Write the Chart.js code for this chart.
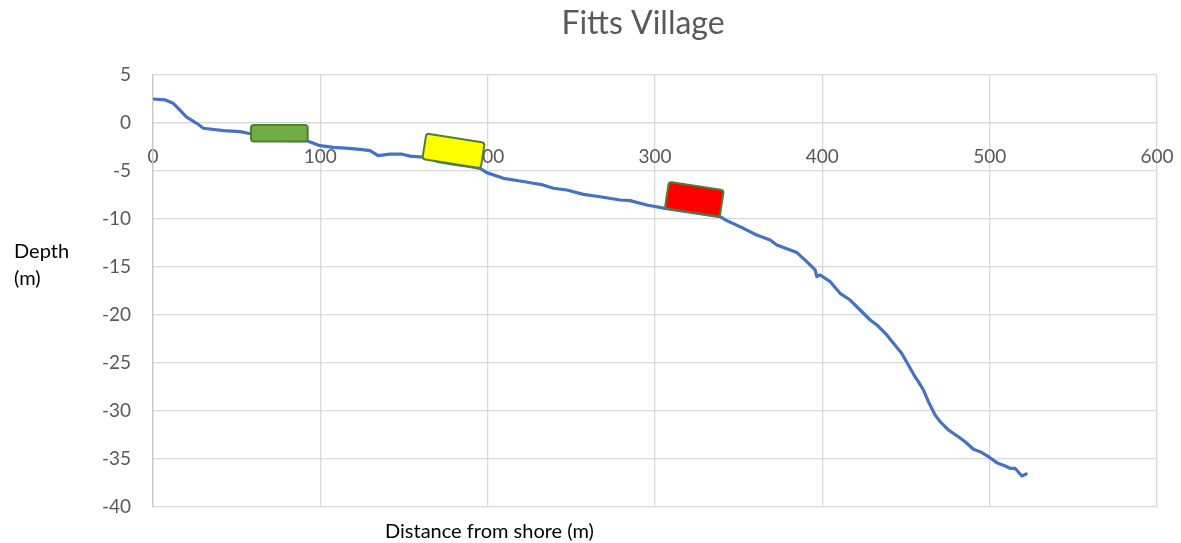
<!DOCTYPE html>
<html>
<head>
<meta charset="utf-8">
<script src="https://cdn.jsdelivr.net/npm/chart.js@4.4.1/dist/chart.umd.min.js"></script>
<style>
  html, body { margin: 0; padding: 0; background: #ffffff; }
  #wrap { width: 1181px; height: 543px; }
</style>
</head>
<body>
<div id="wrap"><canvas id="c" width="1181" height="543"></canvas></div>
<script>
// ---- data ----
const chartTitle = "Fitts Village";
const xAxisTitle = "Distance from shore (m)";
const yAxisTitleLines = ["Depth", "(m)"];

const distance = [0, 7.3, 12.1, 16.1, 20.1, 26.1, 30.1, 42, 52, 59, 70, 80.9, 91.9, 99.8, 107.8, 115, 123.7, 129.7, 134.5, 141.6, 149, 153.6, 161.6, 170, 180, 190, 195.5, 199.4, 209.4, 219.4, 227.3, 233, 239.3, 247.3, 257.2, 267.2, 279.1, 285.1, 295.1, 306, 320, 330, 338.9, 342.9, 352.8, 360.8, 368.8, 372.8, 380.8, 384.8, 390.7, 395.7, 396.7, 398.7, 404.7, 410.6, 416.6, 422.6, 428.6, 432.6, 438.5, 442.5, 447.4, 451.4, 455.4, 457.4, 460.4, 463.4, 467.4, 470.4, 475.4, 481.3, 485.3, 490.3, 494.3, 499.3, 504.3, 509.3, 512.2, 515.2, 519.2, 521.8];
const depth = [2.5, 2.4, 2.05, 1.35, 0.6, -0.03, -0.55, -0.8, -0.9, -1.15, -1.5, -1.84, -1.84, -2.36, -2.53, -2.62, -2.74, -2.88, -3.4, -3.25, -3.25, -3.45, -3.55, -3.99, -4.28, -4.56, -4.72, -5.17, -5.76, -6.04, -6.28, -6.45, -6.8, -6.98, -7.43, -7.68, -8.02, -8.09, -8.54, -8.9, -9.27, -9.53, -9.76, -10.17, -10.97, -11.67, -12.19, -12.71, -13.23, -13.5, -14.44, -15.31, -16.0, -15.83, -16.53, -17.74, -18.44, -19.48, -20.52, -21.04, -22.08, -22.95, -23.99, -25.21, -26.43, -26.94, -27.81, -29.03, -30.42, -31.11, -31.98, -32.68, -33.2, -33.99, -34.24, -34.76, -35.38, -35.73, -35.97, -35.97, -36.77, -36.56];

const xTicks = [0, 100, 200, 300, 400, 500, 600];
const yTicks = [5, 0, -5, -10, -15, -20, -25, -30, -35, -40];

// Zone markers (annotation shapes): centre in data units, size in data units, tilt in degrees
const markerCenterX = [75.5, 179.6, 323.5];
const markerCenterY = [-1.07, -2.9, -7.94];
const markerWidth = [33.9, 35.3, 33.2];
const markerHeight = [1.74, 2.7, 2.79];
const markerAngle = [0, 9, 8.6];
const markerFill = ["#70AD47", "#FFFF00", "#FF0000"];

// ---- chart ----
const points = distance.map((d, i) => ({ x: d, y: depth[i] }));
const FONT = "Lato, 'Open Sans', sans-serif";

const overlayPlugin = {
  id: 'overlay',
  afterDatasetsDraw(chart) {
    const ctx = chart.ctx;
    const xs = chart.scales.x, ys = chart.scales.y;
    for (let i = 0; i < markerCenterX.length; i++) {
      const cx = xs.getPixelForValue(markerCenterX[i]);
      const cy = ys.getPixelForValue(markerCenterY[i]);
      const w = Math.abs(xs.getPixelForValue(markerCenterX[i] + markerWidth[i] / 2) - xs.getPixelForValue(markerCenterX[i] - markerWidth[i] / 2));
      const h = Math.abs(ys.getPixelForValue(markerCenterY[i] + markerHeight[i] / 2) - ys.getPixelForValue(markerCenterY[i] - markerHeight[i] / 2));
      ctx.save();
      ctx.translate(cx, cy);
      ctx.rotate(markerAngle[i] * Math.PI / 180);
      ctx.beginPath();
      ctx.roundRect(-w / 2, -h / 2, w, h, 3);
      ctx.fillStyle = markerFill[i];
      ctx.fill();
      ctx.lineWidth = 2;
      ctx.strokeStyle = "#507E32";
      ctx.stroke();
      ctx.restore();
    }
  },
  afterDraw(chart) {
    const ctx = chart.ctx;
    ctx.save();
    ctx.fillStyle = "#595959";
    ctx.font = "32px " + FONT;
    ctx.textAlign = "center";
    ctx.textBaseline = "alphabetic";
    ctx.fillText(chartTitle, 643, 34);
    ctx.fillStyle = "#000000";
    ctx.font = "20px " + FONT;
    ctx.textAlign = "left";
    ctx.fillText(xAxisTitle, 385, 538);
    yAxisTitleLines.forEach((t, k) => ctx.fillText(t, 14, 258 + k * 27));
    ctx.restore();
  }
};

new Chart(document.getElementById('c'), {
  type: 'scatter',
  data: {
    datasets: [{
      data: points,
      showLine: true,
      borderColor: '#4472C4',
      backgroundColor: '#4472C4',
      borderWidth: 3.2,
      pointRadius: 0,
      pointHoverRadius: 0,
      tension: 0,
      borderJoinStyle: 'round',
      borderCapStyle: 'round'
    }]
  },
  options: {
    responsive: false,
    animation: false,
    events: [],
    layout: { padding: { left: 0, right: 24, top: 75, bottom: 36 } },
    plugins: {
      legend: { display: false },
      title: { display: false },
      tooltip: { enabled: false }
    },
    scales: {
      x: {
        type: 'linear',
        position: { y: 0 },
        min: xTicks[0],
        max: xTicks[xTicks.length - 1],
        afterBuildTicks(scale) { scale.ticks = xTicks.map(v => ({ value: v })); },
        afterFit(scale) { scale.paddingLeft = 0; scale.paddingRight = 0; },
        grid: { color: '#d9d9d9', lineWidth: 1.3, drawTicks: false },
        border: { display: true, color: '#d9d9d9', width: 1.3 },
        ticks: {
          color: '#595959',
          font: { family: FONT, size: 19 },
          padding: 22,
          maxRotation: 0,
          autoSkip: false
        }
      },
      y: {
        type: 'linear',
        position: 'left',
        min: -40,
        max: 5,
        afterBuildTicks(scale) { scale.ticks = yTicks.slice().reverse().map(v => ({ value: v })); },
        afterFit(scale) { scale.width = 153; },
        grid: { color: '#d9d9d9', lineWidth: 1.3, drawTicks: false },
        border: { display: true, color: '#c8c8c8', width: 1.3 },
        ticks: {
          color: '#595959',
          font: { family: FONT, size: 19 },
          padding: 22,
          autoSkip: false
        }
      }
    }
  },
  plugins: [overlayPlugin]
});
</script>
</body>
</html>
